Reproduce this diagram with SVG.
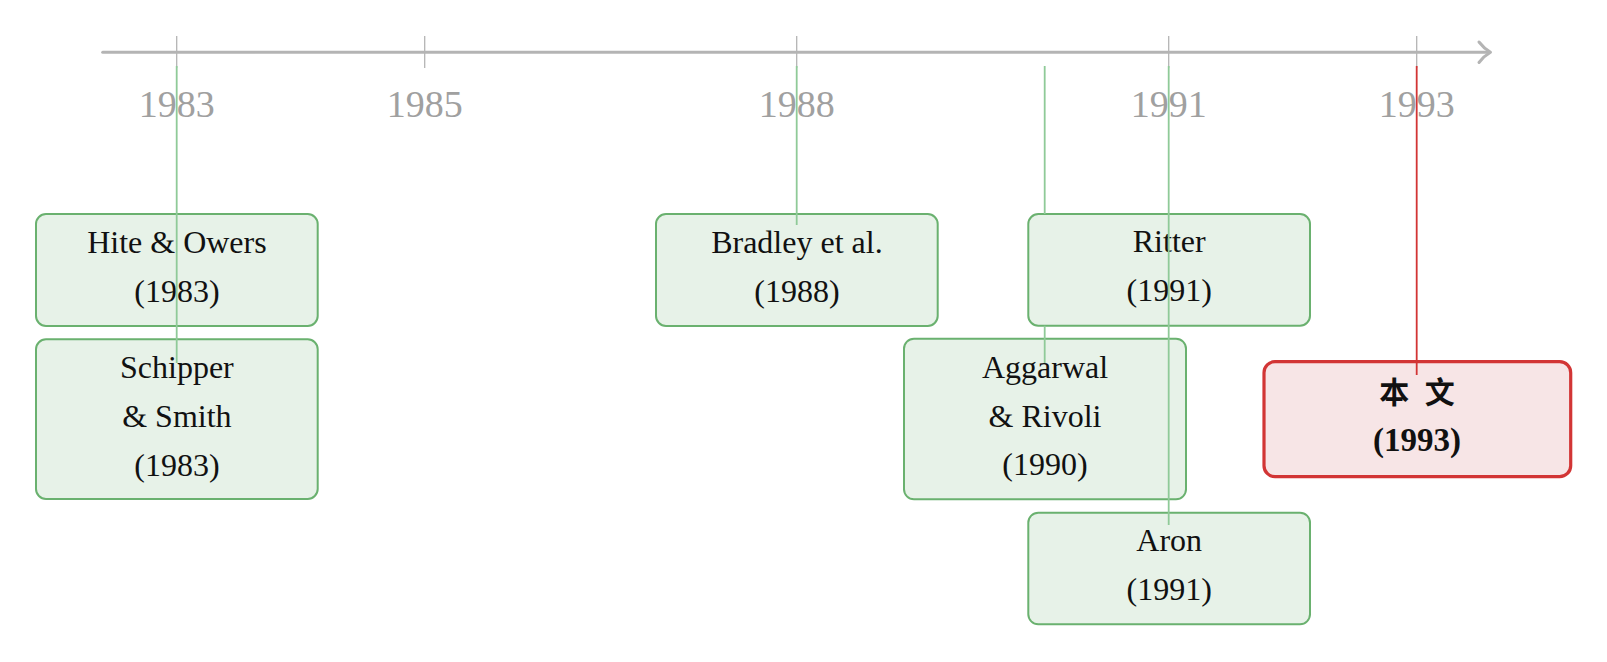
<svg xmlns="http://www.w3.org/2000/svg" width="1607" height="662" viewBox="0 0 1607 662">
<style>
.axis{stroke:#b4b4b4;stroke-width:3;fill:none;stroke-linecap:round;stroke-linejoin:round}
.tick{stroke:#b4b4b4;stroke-width:1.3}
.year{font-family:"Liberation Serif",serif;font-size:38px;fill:#a0a0a0;text-anchor:middle}
.box{fill:#e7f2e8;stroke:#6ab16f;stroke-width:2}
.hl{fill:#f7e5e6;stroke:#d23535;stroke-width:3.2}
.t{font-family:"Liberation Serif",serif;font-size:32px;fill:#111;text-anchor:middle}
.tb{font-family:"Liberation Serif","Noto Sans CJK SC",serif;font-size:33px;font-weight:bold;fill:#111;text-anchor:middle}
.cg{stroke:#8fca98;stroke-width:1.8;fill:none}
.cr{stroke:#d23535;stroke-width:1.8;fill:none}
</style>
<g id="axis">
<path class="axis" d="M102.7,52.3 H1489"/>
<path class="axis" d="M1479,42 Q1484,48.5 1490.5,52.3 Q1484,56 1479,62.5"/>
<line class="tick" x1="176.7" y1="36" x2="176.7" y2="68"/>
<line class="tick" x1="424.7" y1="36" x2="424.7" y2="68"/>
<line class="tick" x1="796.7" y1="36" x2="796.7" y2="68"/>
<line class="tick" x1="1168.7" y1="36" x2="1168.7" y2="68"/>
<line class="tick" x1="1416.7" y1="36" x2="1416.7" y2="68"/>
<text class="year" x="176.7" y="117">1983</text>
<text class="year" x="424.7" y="117">1985</text>
<text class="year" x="796.7" y="117">1988</text>
<text class="year" x="1168.7" y="117">1991</text>
<text class="year" x="1416.7" y="117">1993</text>
</g>
<g id="hite">
<rect class="box" x="36" y="214" width="281.7" height="112" rx="10"/>
<text class="t" x="176.9" y="253">Hite &amp; Owers</text>
<text class="t" x="176.9" y="302">(1983)</text>
</g>
<g id="schipper">
<rect class="box" x="36" y="339.3" width="281.7" height="159.7" rx="10"/>
<text class="t" x="176.9" y="377.5">Schipper</text>
<text class="t" x="176.9" y="426.5">&amp; Smith</text>
<text class="t" x="176.9" y="475.5">(1983)</text>
</g>
<g id="bradley">
<rect class="box" x="656" y="214" width="281.7" height="112" rx="10"/>
<text class="t" x="796.9" y="252.5">Bradley et al.</text>
<text class="t" x="796.9" y="302">(1988)</text>
</g>
<g id="ritter">
<rect class="box" x="1028.3" y="214" width="281.7" height="111.7" rx="10"/>
<text class="t" x="1169.2" y="252">Ritter</text>
<text class="t" x="1169.2" y="301">(1991)</text>
</g>
<g id="aggarwal">
<rect class="box" x="904" y="338.7" width="282" height="160.6" rx="10"/>
<text class="t" x="1045" y="377.5">Aggarwal</text>
<text class="t" x="1045" y="426.5">&amp; Rivoli</text>
<text class="t" x="1045" y="475">(1990)</text>
</g>
<g id="aron">
<rect class="box" x="1028.3" y="512.7" width="281.7" height="111.6" rx="10"/>
<text class="t" x="1169.2" y="551">Aron</text>
<text class="t" x="1169.2" y="599.5">(1991)</text>
</g>
<g id="thispaper">
<rect class="hl" x="1264" y="361.7" width="306.7" height="115" rx="11"/>
<text class="tb" x="1417" y="403" style="font-size:30px;word-spacing:8px">本 文</text>
<text class="tb" x="1417" y="451">(1993)</text>
</g>
<g id="connectors">
<path class="cg" d="M176.7,66 V363"/>
<path class="cg" d="M796.7,66 V225"/>
<path class="cg" d="M1044.7,66 V214 M1044.7,325.7 V363"/>
<path class="cg" d="M1168.7,66 V525"/>
<path class="cr" d="M1416.7,66 V375"/>
</g>
</svg>
